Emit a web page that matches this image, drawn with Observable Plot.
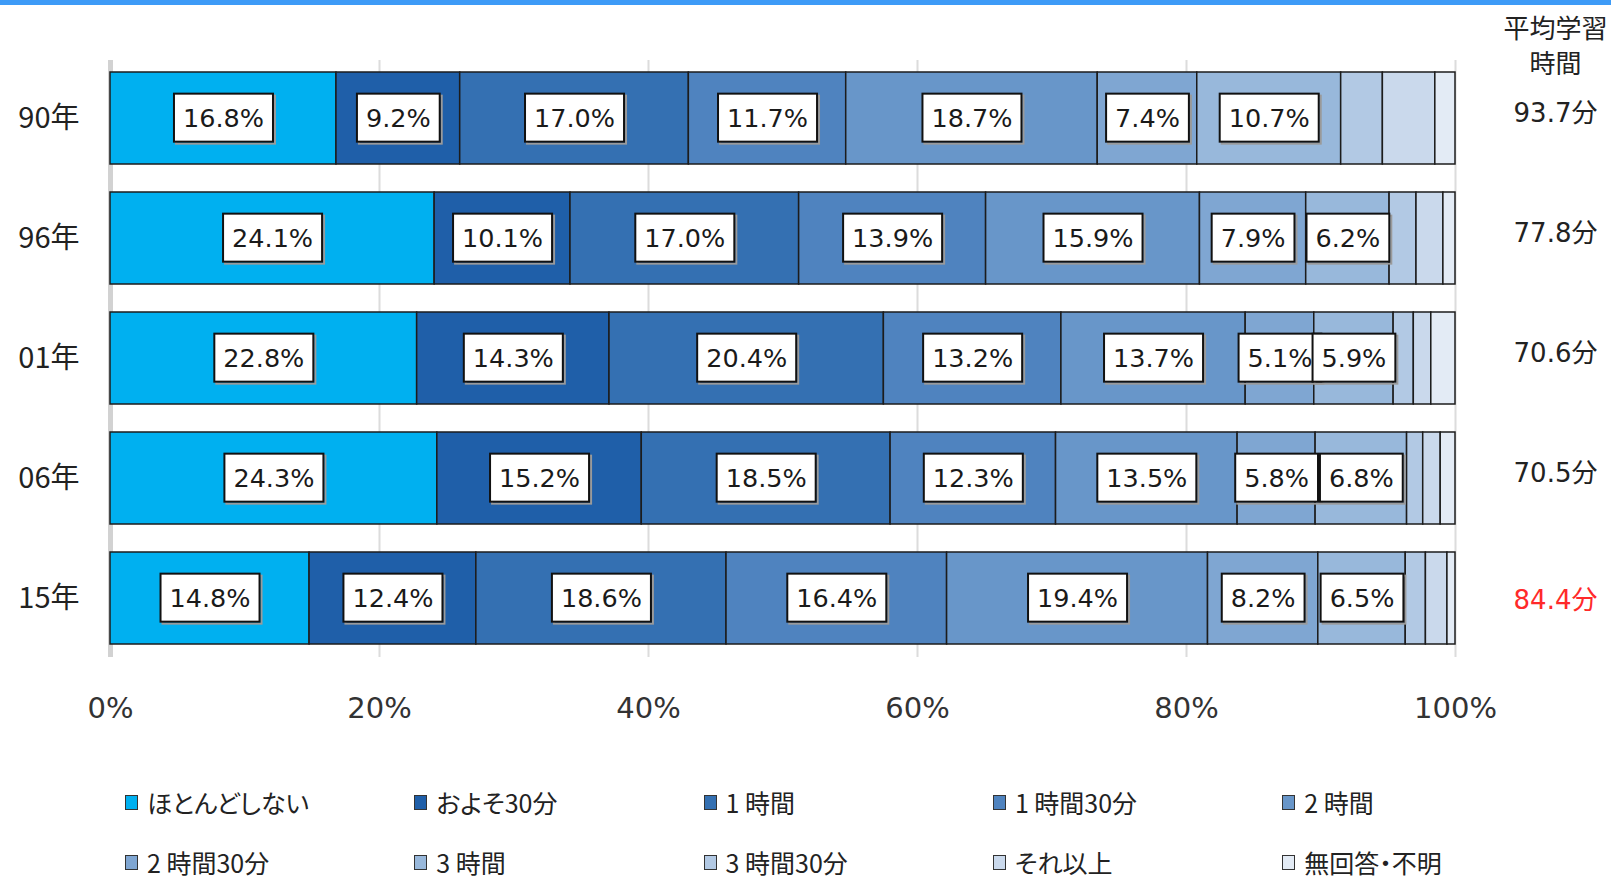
<!DOCTYPE html>
<html><head><meta charset="utf-8">
<script src="https://cdn.jsdelivr.net/npm/d3@7"></script>
<script src="https://cdn.jsdelivr.net/npm/@observablehq/plot@0.6"></script>
<style>
body{margin:0;background:#fff;width:1611px;height:877px;overflow:hidden;position:relative;font-family:"Noto Sans CJK JP",sans-serif;}
#topbar{position:absolute;left:0;top:0;width:1611px;height:5px;background:#3d9bf7;}
#chart{position:absolute;left:0;top:0;}
#legend{position:absolute;left:0;top:0;width:1611px;}
.li{position:absolute;display:flex;align-items:center;font-size:25px;line-height:26px;color:#222;font-feature-settings:"palt";white-space:nowrap;transform:translateY(-50%);}
.sw{width:11px;height:13px;border:1.5px solid #333;margin-right:9px;flex:none;}
</style></head><body>
<div id="chart"></div><div id="topbar"></div><div id="legend"></div>
<script>
const years = ["90年","96年","01年","06年","15年"];
const categories = ["ほとんどしない","およそ30分","1 時間","1 時間30分","2 時間","2 時間30分","3 時間","3 時間30分","それ以上","無回答・不明"];
const colors = ["#00b0f0","#1f5fa9","#3470b2","#4f83bf","#6896c9","#7fa6d2","#98b8db","#b2c9e4","#cad9ec","#e3ebf5"];
const v90 = [16.8, 9.2, 17.0, 11.7, 18.7, 7.4, 10.7, 3.1, 3.9, 1.5];
const v96 = [24.1, 10.1, 17.0, 13.9, 15.9, 7.9, 6.2, 2.0, 2.0, 0.9];
const v01 = [22.8, 14.3, 20.4, 13.2, 13.7, 5.1, 5.9, 1.5, 1.3, 1.8];
const v06 = [24.3, 15.2, 18.5, 12.3, 13.5, 5.8, 6.8, 1.2, 1.3, 1.1];
const v15 = [14.8, 12.4, 18.6, 16.4, 19.4, 8.2, 6.5, 1.5, 1.6, 0.6];
const labeledCount = 7; // first seven categories carry a value label
const avgMinutes = [93.7, 77.8, 70.6, 70.5, 84.4];
const avgHeader = ["平均学習", "時間"];
const xTicks = [0, 20, 40, 60, 80, 100];

const seriesByYear = [v90, v96, v01, v06, v15];
const data = [];
years.forEach((y, i) => seriesByYear[i].forEach((v, j) => data.push({year: y, cat: categories[j], idx: j, value: v})));
const avgRows = years.map((y, i) => ({year: y, text: avgMinutes[i].toFixed(1) + "分", last: i === years.length - 1}));

const numFont = "'DejaVu Sans','Noto Sans CJK JP',sans-serif";
const jpFont = "'Noto Sans CJK JP',sans-serif";

const plot = Plot.plot({
  width: 1611, height: 740,
  marginLeft: 110, marginRight: 156, marginTop: 60, marginBottom: 83,
  x: {domain: [0, 100]},
  y: {domain: years, paddingInner: 0.231, paddingOuter: 0.0825},
  color: {domain: categories, range: colors},
  style: {fontFamily: numFont, background: "white", color: "#222", overflow: "visible"},
  marks: [
    Plot.ruleX(xTicks.slice(1), {stroke: "#dcdcdc", strokeWidth: 2}),
    Plot.ruleX([0], {stroke: "#d2d2d2", strokeWidth: 5}),
    Plot.barX(data, Plot.stackX({x: "value", y: "year", fill: "cat", z: "cat", stroke: "#1c1c1c", strokeWidth: 1.5})),
    Plot.text(data, Plot.stackX({x: "value", y: "year", z: "cat",
      text: d => d.idx < labeledCount ? d.value.toFixed(1) + "%" : "",
      fontSize: 25.5, fill: "#1a1a1a"})),
    Plot.axisX({ticks: xTicks, tickFormat: d => d + "%", tickSize: 0, tickPadding: 40, fontSize: 29, fontFamily: numFont, fill: "#333", label: null}),
    Plot.axisY({tickSize: 0, tickPadding: 31, fontSize: 29, fontFamily: jpFont, fill: "#222", label: null}),
    Plot.text(avgRows.filter(d => !d.last), {y: "year", text: "text", frameAnchor: "right", textAnchor: "middle", dx: 100, dy: -5, fontSize: 26, fill: "#222"}),
    Plot.text(avgRows.filter(d => d.last), {y: "year", text: "text", frameAnchor: "right", textAnchor: "middle", dx: 100, dy: 2, fontSize: 26, fill: "#ff2a2a"}),
    Plot.text([avgHeader[0]], {text: d => d, frameAnchor: "top-right", textAnchor: "middle", dx: 100, dy: -31, lineAnchor: "middle", fontSize: 26, fontFamily: jpFont, fill: "#222"}),
    Plot.text([avgHeader[1]], {text: d => d, frameAnchor: "top-right", textAnchor: "middle", dx: 100, dy: 4, lineAnchor: "middle", fontSize: 26, fontFamily: jpFont, fill: "#222"})
  ]
});
document.getElementById("chart").appendChild(plot);

// white boxes behind the segment labels (same transform as each label)
const ns = "http://www.w3.org/2000/svg";
plot.querySelectorAll('g[aria-label="text"] text').forEach(t => {
  const s = t.textContent || "";
  if (!s.endsWith("%")) return;
  const bb = t.getBBox();
  const tr = t.getAttribute("transform");
  const cx = bb.x + bb.width / 2, cy = bb.y + bb.height / 2;
  const w = bb.width + 18, h = 48;
  const mk = (dx, fill, stroke) => {
    const r = document.createElementNS(ns, "rect");
    r.setAttribute("x", cx - w / 2 + dx); r.setAttribute("y", cy - h / 2 + dx);
    r.setAttribute("width", w); r.setAttribute("height", h);
    r.setAttribute("fill", fill); r.setAttribute("stroke", stroke); r.setAttribute("stroke-width", 2);
    if (tr) r.setAttribute("transform", tr);
    t.parentNode.insertBefore(r, t);
  };
  mk(2, "none", "#9a9a9a");
  mk(0, "#fff", "#111");
});

// legend
const legend = document.getElementById("legend");
categories.forEach((c, i) => {
  const row = Math.floor(i / 5), col = i % 5;
  const el = document.createElement("div");
  el.className = "li";
  el.style.left = (125 + col * 289.3) + "px";
  el.style.top = (802 + row * 60) + "px";
  const sw = document.createElement("span");
  sw.className = "sw"; sw.style.background = colors[i];
  el.appendChild(sw);
  el.appendChild(document.createTextNode(c));
  legend.appendChild(el);
});
</script>
</body></html>
